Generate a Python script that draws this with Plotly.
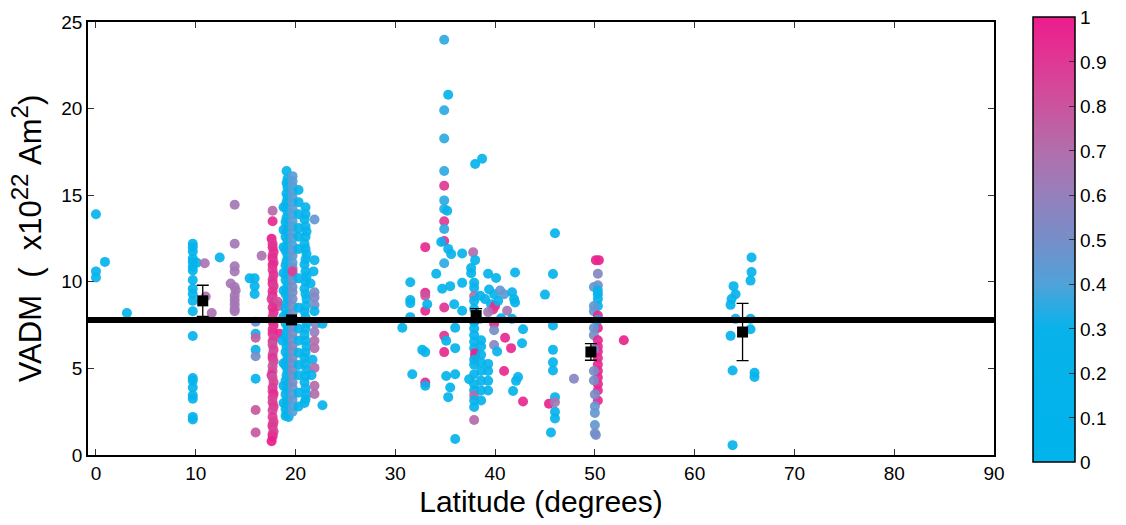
import plotly.graph_objects as go

# Each group: (latitude, VADM, tone) ; tone is the colour-bar value
grp_equator = [(0.0, 13.9, .2), (0.9, 11.15, .2), (0.0, 10.6, .2), (0.0, 10.25, .2), (3.1, 8.2, .2)]

grp_lat10 = [(9.7, 12.2, .2), (9.7, 12.0, .2), (9.7, 11.75, .2), (9.7, 11.35, .2), (9.7, 11.15, .2),
             (9.7, 10.85, .2), (9.7, 10.65, .2), (9.7, 10.1, .2), (9.7, 9.6, .2), (9.7, 9.3, .2),
             (9.7, 8.9, .2), (9.7, 8.3, .2), (9.7, 6.87, .2), (9.7, 4.45, .2), (9.7, 4.28, .2),
             (9.7, 3.9, .2), (9.7, 3.45, .2), (9.7, 3.25, .2), (9.7, 2.2, .2), (9.7, 2.05, .2),
             (10.1, 11.1, .2), (12.4, 11.4, .2)]

grp_lat14 = [(10.9, 11.07, .68), (11.0, 9.15, .68), (11.6, 8.2, .68), (13.9, 14.45, .65), (13.9, 12.2, .65),
             (13.9, 10.9, .65), (13.9, 10.6, .65), (13.5, 9.9, .65), (13.9, 9.7, .65), (14.0, 9.5, .65),
             (13.9, 9.2, .65), (13.9, 8.95, .65), (13.9, 8.7, .65), (13.9, 8.45, .65), (13.9, 8.3, .65),
             (16.6, 11.5, .68),
             (15.4, 10.2, .2), (15.9, 10.2, .2), (15.9, 9.75, .2), (15.9, 9.3, .2), (16.0, 7.7, .45),
             (16.0, 7.0, .2), (16.0, 6.77, .75), (16.0, 6.07, .2), (16.0, 5.7, .5), (16.0, 4.4, .2),
             (16.0, 2.6, .78), (16.0, 1.3, .78)]

grp_lat18 = [(17.7, 14.1, .72), (17.7, 13.5, .95), (17.6, 12.48, 1.0), (17.7, 12.2, .9), (17.7, 12.0, .92),
             (17.8, 11.73, .95), (17.7, 11.5, .9), (17.7, 11.35, .95), (17.8, 11.1, .88), (17.7, 10.97, .95),
             (17.7, 10.69, .9), (17.8, 10.41, .92), (17.7, 10.12, .9), (17.7, 9.9, .95), (17.8, 9.75, .88),
             (17.7, 9.46, .92), (17.7, 9.18, .95), (17.6, 9.0, .85), (17.8, 8.8, .9), (18.2, 8.85, .82),
             (18.3, 8.6, .8), (17.7, 8.52, .92), (17.8, 8.24, .95), (17.7, 7.96, .88), (17.7, 7.7, .92),
             (17.8, 7.48, .95), (17.7, 7.25, .9), (17.7, 7.01, .92), (18.4, 7.0, .98), (17.8, 6.73, .85),
             (17.7, 6.55, .9), (17.7, 6.35, .8), (17.8, 6.07, .88), (17.7, 5.79, .8), (17.7, 5.6, .92),
             (17.8, 5.41, .85), (17.7, 5.13, .8), (17.7, 4.85, .82), (17.6, 4.6, .95), (17.7, 4.47, .8),
             (17.8, 4.2, .85), (17.7, 3.9, .9), (17.7, 3.7, .85), (17.8, 3.52, .95), (17.7, 3.3, .88),
             (17.7, 3.05, .85), (17.8, 2.8, .9), (17.7, 2.58, .85), (17.7, 2.2, .9), (17.8, 1.92, .88),
             (17.7, 1.75, .85), (17.7, 1.64, .9), (17.8, 1.36, .85), (17.7, 1.2, .88), (17.7, 1.07, .92),
             (17.6, 0.79, 1.0)]

grp_lat19 = [(19.1, 16.4, .2), (19.2, 15.95, .2), (19.1, 15.7, .2), (19.2, 15.45, .2), (19.1, 15.1, .2),
             (19.2, 14.85, .2), (19.1, 14.6, .2), (19.0, 14.3, .2), (19.2, 14.05, .2), (19.1, 13.7, .2),
             (19.0, 13.45, .2), (19.2, 13.2, .2), (19.1, 12.9, .2), (19.0, 12.6, .2), (19.2, 12.35, .2),
             (19.1, 12.05, .2), (19.0, 11.8, .2), (19.2, 11.5, .2), (19.1, 11.2, .2), (19.0, 10.95, .2),
             (19.2, 10.7, .2), (19.1, 10.4, .2), (19.0, 10.1, .2), (19.2, 9.85, .2), (19.1, 9.55, .2),
             (19.0, 9.3, .2), (19.2, 9.0, .2), (19.1, 8.75, .2), (19.0, 8.45, .2), (19.2, 8.15, .2),
             (19.1, 7.9, .2), (19.0, 7.6, .2), (19.2, 7.35, .2), (19.1, 7.05, .2), (19.0, 6.8, .2),
             (19.2, 6.5, .2), (19.1, 6.25, .2), (19.0, 5.95, .2), (19.2, 5.7, .2), (19.1, 5.4, .2),
             (19.0, 5.15, .2), (19.2, 4.85, .2), (19.1, 4.6, .2), (19.0, 4.3, .2), (19.2, 4.05, .2),
             (19.1, 3.75, .2), (19.0, 3.5, .2), (19.2, 3.2, .2), (19.1, 2.95, .2), (19.0, 2.65, .2),
             (19.1, 2.4, .2), (19.3, 2.2, .2), (19.0, 2.25, .2),
             (18.8, 14.3, .2), (18.8, 13.0, .2), (18.8, 12.0, .2), (18.8, 10.5, .2), (18.8, 9.5, .2),
             (18.8, 8.0, .2), (18.7, 6.6, .2), (18.8, 5.3, .2), (18.8, 4.0, .2), (18.8, 3.0, .2)]

grp_lat197 = [(19.7, 16.1, .42), (19.7, 15.8, .42), (19.7, 15.5, .42), (19.7, 15.2, .4), (19.7, 14.9, .42),
              (19.7, 14.6, .4), (19.7, 14.2, .42), (19.7, 13.9, .4), (19.7, 13.5, .42), (19.7, 13.2, .4),
              (19.7, 12.8, .42), (19.7, 12.5, .42), (19.7, 12.1, .4), (19.7, 11.8, .42), (19.7, 11.5, .45),
              (19.7, 11.1, .42), (19.7, 10.8, .45), (19.7, 10.4, .45), (19.7, 10.1, .5), (19.7, 9.7, .5),
              (19.7, 9.4, .5), (19.7, 9.0, .5), (19.7, 8.6, .52), (19.7, 8.2, .5), (19.7, 7.8, .52),
              (19.7, 7.4, .5), (19.7, 7.0, .52), (19.7, 6.7, .5), (19.7, 6.3, .55), (19.7, 6.0, .52),
              (19.7, 5.6, .5), (19.7, 5.3, .52), (19.7, 4.9, .55), (19.7, 4.6, .5), (19.7, 4.2, .5),
              (19.7, 3.9, .48), (19.7, 3.5, .45), (19.7, 3.2, .45), (19.7, 2.8, .42), (19.7, 2.5, .4),
              (19.7, 10.6, .88)]

grp_lat20 = [(20.3, 15.3, .2), (20.3, 14.6, .2), (20.3, 13.9, .2), (20.3, 13.1, .2), (20.3, 12.6, .2),
             (20.3, 11.9, .2), (20.3, 10.2, .2), (20.3, 8.5, .2), (20.3, 7.3, .2), (20.3, 6.6, .2),
             (20.3, 5.9, .2), (20.3, 5.2, .2), (20.3, 4.6, .2), (20.3, 3.6, .2), (20.3, 2.8, .2)]

grp_lat21 = [(21.0, 14.3, .2), (21.0, 13.9, .2), (20.9, 13.6, .2), (21.0, 13.2, .2), (21.1, 12.9, .2),
             (21.0, 12.6, .2), (20.9, 12.2, .2), (21.0, 11.9, .2), (21.1, 11.6, .2), (21.0, 11.3, .2),
             (20.9, 11.0, .2), (21.0, 10.6, .2), (21.1, 10.3, .2), (21.0, 10.0, .2), (20.9, 9.6, .2),
             (21.0, 9.3, .2), (21.1, 9.0, .2), (21.0, 8.6, .2), (20.9, 8.3, .2), (21.0, 7.95, .2),
             (21.1, 7.6, .2), (21.0, 7.3, .2), (20.9, 6.95, .2), (21.0, 6.6, .2), (21.1, 6.25, .2),
             (21.0, 5.9, .2), (20.9, 5.6, .2), (21.0, 5.25, .2), (21.1, 4.9, .2), (21.0, 4.55, .2),
             (20.9, 4.2, .2), (21.0, 3.85, .2), (21.1, 3.5, .2), (21.0, 3.2, .2), (20.9, 3.0, .2),
             (21.9, 13.6, .45), (21.9, 11.25, .2), (21.8, 10.6, .2), (21.9, 9.4, .5), (21.9, 9.1, .55),
             (21.9, 8.66, .5), (21.9, 8.3, .2), (22.0, 7.58, .55), (21.9, 7.1, .6), (21.9, 6.6, .7),
             (21.9, 6.17, .7), (21.7, 5.5, .2), (21.9, 5.03, .7), (21.6, 4.6, .2), (21.9, 4.0, .7),
             (21.9, 3.52, .7), (22.7, 7.58, .2), (22.7, 2.87, .2), (21.5, 9.9, .2)]

grp_lat35 = [(30.7, 7.35, .2), (31.5, 9.97, .2), (31.5, 8.95, .2), (31.5, 8.77, .2), (31.5, 7.96, .2),
             (31.7, 4.66, .2), (32.7, 6.07, .2), (33.0, 5.94, .2), (33.0, 12.0, .95), (33.0, 9.37, .95),
             (33.0, 9.2, .8), (33.0, 8.33, .95), (33.0, 4.19, .95), (33.0, 4.0, .2), (33.2, 8.7, .2),
             (34.1, 10.46, .2), (34.7, 9.6, .2), (34.9, 8.52, .92), (34.9, 6.88, .92), (34.9, 5.94, .95),
             (35.1, 6.6, .2), (35.1, 4.56, .2), (35.5, 9.75, .2), (35.5, 3.9, .2), (35.3, 3.34, .2),
             (35.9, 8.7, .2), (36.0, 7.35, .2), (36.0, 6.17, .2), (36.0, 4.66, .2), (36.7, 11.63, .2),
             (36.7, 9.94, .2), (36.7, 8.33, .2), (37.4, 4.37, .2), (37.6, 10.8, .2), (37.6, 10.5, .2),
             (37.8, 11.7, .7), (38.0, 11.25, .2),
             (34.9, 23.98, .35), (35.3, 20.8, .2), (34.9, 19.9, .35), (34.9, 18.27, .35), (34.9, 16.4, .35),
             (34.9, 15.55, .9), (34.9, 14.7, .35), (34.9, 14.2, .35), (35.2, 14.1, .2), (34.9, 13.5, .9),
             (34.9, 13.05, .35), (34.9, 12.35, .92), (34.6, 12.3, .2), (35.3, 11.9, .2), (35.6, 11.6, .2),
             (34.9, 11.07, .35), (38.0, 16.8, .2), (38.7, 17.1, .2), (36.0, 0.92, .2)]

grp_lat38 = [(37.9, 9.94, .2), (37.9, 9.66, .2), (37.9, 9.18, .7), (37.9, 8.9, .2), (37.9, 8.43, .2),
             (37.9, 7.67, .2), (37.9, 7.3, .2), (37.9, 6.92, .2), (37.9, 6.54, .2), (37.9, 6.17, .2),
             (38.0, 5.88, .97), (38.0, 5.7, .97), (37.9, 5.5, .2), (37.9, 5.22, .2), (37.9, 4.66, .2),
             (37.9, 4.09, .2), (37.9, 3.72, .2), (37.9, 3.43, .72), (37.9, 3.15, .2), (37.9, 2.77, .2),
             (37.9, 2.02, .72),
             (38.6, 6.63, .2), (38.6, 6.26, .2), (38.6, 5.79, .2), (38.6, 5.32, .2), (38.6, 4.85, .2),
             (38.6, 4.28, .2), (38.6, 3.72, .2), (38.6, 3.15, .2),
             (39.3, 5.26, .2), (39.3, 4.85, .2), (39.3, 4.28, .2), (39.3, 3.72, .2),
             (39.3, 10.46, .2), (39.4, 9.56, .2), (39.6, 8.7, .2), (39.9, 9.28, .2), (40.1, 10.22, .2),
             (40.0, 8.61, .95), (39.8, 8.4, .9), (39.9, 7.58, .95), (39.9, 7.2, .5), (39.9, 6.35, .55),
             (40.2, 5.98, .2), (39.3, 8.25, .65), (40.9, 9.28, .45), (41.2, 8.33, .65), (41.0, 6.77, .95),
             (40.9, 4.85, .95), (41.6, 6.17, .95), (41.7, 9.4, .2), (41.9, 9.0, .2), (42.0, 8.8, .2),
             (42.0, 10.54, .2), (41.7, 7.86, .2), (42.1, 4.28, .2), (42.3, 4.5, .2), (41.8, 3.7, .2),
             (42.7, 6.45, .2), (42.8, 7.26, .2), (42.8, 3.09, .95), (40.5, 9.5, .45), (40.3, 8.9, .2),
             (40.6, 7.9, .2), (39.0, 9.0, .2), (38.5, 9.2, .2)]

grp_lat46 = [(46.0, 12.8, .2), (45.8, 10.45, .2), (45.0, 9.26, .2), (45.8, 7.48, .2), (45.8, 6.07, .2),
             (45.8, 5.35, .2), (45.8, 4.88, .2), (46.0, 3.34, .2), (46.0, 2.49, .2), (46.0, 2.11, .2),
             (45.6, 1.3, .2), (47.9, 4.4, .55), (45.4, 2.96, .97), (46.0, 3.05, .65)]

grp_lat50 = [(50.1, 11.25, .97), (50.4, 11.25, .97), (50.3, 10.46, .55), (50.3, 9.8, .5), (49.9, 9.7, .45),
             (50.3, 9.28, .2), (50.3, 9.0, .2), (50.3, 8.6, .2), (49.9, 8.6, .45), (49.9, 8.3, .45),
             (50.3, 8.05, .95), (50.3, 7.33, .95), (49.9, 7.33, .45), (49.9, 6.92, .5), (50.3, 6.63, .95),
             (50.3, 6.26, .95), (50.3, 5.98, .95), (49.9, 6.1, .5), (50.3, 5.6, .95), (50.3, 5.22, .95),
             (50.3, 4.85, .95), (50.3, 4.47, .95), (50.3, 4.09, .95), (50.3, 3.72, .95), (50.3, 3.15, .95),
             (49.9, 4.85, .5), (49.9, 4.3, .5), (50.0, 3.5, .5), (50.0, 2.81, .45), (50.0, 2.43, .45),
             (50.0, 1.73, .45), (50.0, 1.26, .5), (50.1, 1.15, .5), (52.9, 6.63, .97), (50.3, 9.5, .2),
             (50.3, 7.8, .2)]

grp_lat65 = [(65.7, 11.4, .2), (65.7, 10.56, .2), (65.6, 10.07, .2), (63.9, 9.75, .2), (64.1, 9.28, .2),
             (63.7, 9.0, .2), (63.6, 8.67, .2), (64.1, 7.86, .2), (65.6, 7.86, .2), (65.6, 7.26, .2),
             (63.6, 6.88, .2), (63.8, 4.88, .2), (66.0, 4.75, .2), (66.0, 4.5, .2), (63.8, 0.57, .2)]

# Binned means with error bars
mean_lat = [10.7, 19.6, 38.1, 49.6, 64.8]
mean_vadm = [8.9, 7.8, 8.05, 5.95, 7.1]
mean_err = [0.9, 0.15, 0.4, 0.48, 1.65]

REF_VADM = 7.8

x_ticks = [0, 10, 20, 30, 40, 50, 60, 70, 80, 90]
y_ticks = [0, 5, 10, 15, 20, 25]
cb_ticks = [0, 0.1, 0.2, 0.3, 0.4, 0.5, 0.6, 0.7, 0.8, 0.9, 1]
cb_labels = ["0", "0.1", "0.2", "0.3", "0.4", "0.5", "0.6", "0.7", "0.8", "0.9", "1"]

groups = [grp_equator, grp_lat10, grp_lat14, grp_lat18, grp_lat19, grp_lat197, grp_lat20,
          grp_lat21, grp_lat35, grp_lat38, grp_lat46, grp_lat50, grp_lat65]
pts = [p for g in groups for p in g]
lat = [p[0] for p in pts]
vadm = [p[1] for p in pts]
tone = [p[2] for p in pts]

cscale = [[0.0, "rgb(0,180,236)"], [0.3, "rgb(8,178,234)"], [0.4, "rgb(80,162,218)"],
          [0.5, "rgb(118,142,200)"], [0.6, "rgb(150,128,188)"], [0.7, "rgb(178,110,172)"],
          [0.8, "rgb(203,84,158)"], [0.9, "rgb(224,56,148)"], [1.0, "rgb(236,28,140)"]]

FONT = "Liberation Sans, Arial, Helvetica, sans-serif"

fig = go.Figure()
fig.add_trace(go.Scatter(
    x=lat, y=vadm, mode="markers", showlegend=False, hoverinfo="skip",
    marker=dict(size=10, color=tone, colorscale=cscale, cmin=0, cmax=1, opacity=0.92,
                line=dict(width=0), showscale=True,
                colorbar=dict(x=1.043, xanchor="left", y=0.4966, yanchor="middle",
                              len=445, lenmode="pixels", thickness=42, thicknessmode="pixels",
                              outlinewidth=1.5, outlinecolor="black", xpad=0, ypad=0,
                              tickvals=cb_ticks, ticktext=cb_labels, ticks="inside", ticklen=6,
                              tickcolor="#333", tickwidth=1.2,
                              tickfont=dict(size=19, color="black", family=FONT)))))

fig.add_hline(y=REF_VADM, line=dict(color="black", width=6))

fig.add_trace(go.Scatter(
    x=mean_lat, y=mean_vadm, mode="markers", showlegend=False, hoverinfo="skip",
    marker=dict(symbol="square", size=11, color="black"),
    error_y=dict(type="data", array=mean_err, visible=True, color="black", thickness=1.3, width=6)))

axis_common = dict(showgrid=False, zeroline=False, showline=True, linecolor="black", linewidth=1.8,
                   mirror="allticks", ticks="inside", ticklen=6, tickwidth=1.2, tickcolor="#333",
                   tickfont=dict(size=19, color="black", family=FONT))

y_title = ("VADM&nbsp; (&nbsp; x10<sup><span style='font-size:24px'>22</span></sup>"
           "&nbsp;Am<sup><span style='font-size:24px'>2</span></sup>)")

fig.update_layout(
    width=1126, height=525, autosize=False,
    margin=dict(l=88, r=130, t=17, b=66),
    paper_bgcolor="white", plot_bgcolor="white",
    font=dict(family=FONT, color="black"),
    xaxis=dict(range=[-0.8, 90], tickvals=x_ticks,
               title=dict(text="Latitude (degrees)", font=dict(size=30, family=FONT), standoff=8),
               **axis_common),
    yaxis=dict(range=[0, 25], tickvals=y_ticks,
               title=dict(text=y_title, font=dict(size=31, family=FONT), standoff=10),
               **axis_common),
)

fig.write_html("out.html")
